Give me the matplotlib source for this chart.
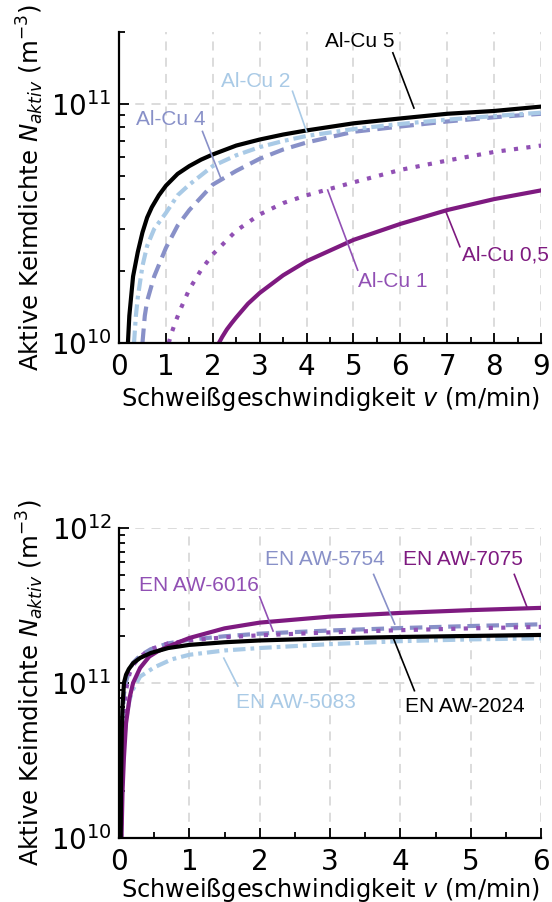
import matplotlib
matplotlib.use("Agg")
import matplotlib.pyplot as plt
from matplotlib.ticker import LogLocator, NullFormatter, MultipleLocator

# ---- data (v in m/min, N in m^-3) ----
# top panel: Al-Cu alloys (N in units of 1e10)
v_cu5 = [0.19, 0.22, 0.25, 0.3, 0.4, 0.5, 0.6, 0.7, 0.85, 1.0, 1.25, 1.5, 1.75, 2, 2.5, 3, 3.5, 4, 5, 6, 7, 8, 9]
n_cu5 = [1.0, 1.3, 1.5, 1.9, 2.4, 2.9, 3.35, 3.7, 4.15, 4.55, 5.1, 5.5, 5.85, 6.15, 6.7, 7.1, 7.45, 7.75, 8.3, 8.7, 9.1, 9.35, 9.75]
v_cu2 = [0.32, 0.36, 0.4, 0.5, 0.6, 0.75, 1.0, 1.25, 1.5, 2, 2.5, 3, 3.5, 4, 5, 6, 7, 8, 9]
n_cu2 = [1.0, 1.3, 1.55, 2.1, 2.55, 3.0, 3.5, 4.15, 4.6, 5.5, 6.1, 6.6, 7.0, 7.35, 7.85, 8.25, 8.6, 8.9, 9.2]
v_cu4 = [0.5, 0.55, 0.6, 0.75, 1.0, 1.25, 1.5, 2, 2.5, 3, 3.5, 4, 5, 6, 7, 8, 9]
n_cu4 = [1.0, 1.3, 1.5, 1.9, 2.5, 3.1, 3.6, 4.6, 5.25, 5.9, 6.45, 6.9, 7.65, 8.05, 8.45, 8.8, 9.1]
v_cu1 = [1.06, 1.12, 1.2, 1.3, 1.5, 1.75, 2, 2.5, 3, 3.5, 4, 5, 6, 7, 8, 9]
n_cu1 = [1.0, 1.1, 1.22, 1.37, 1.68, 2.02, 2.35, 2.95, 3.45, 3.85, 4.15, 4.7, 5.3, 5.8, 6.3, 6.7]
v_cu05 = [2.13, 2.2, 2.3, 2.4, 2.5, 2.75, 3, 3.5, 4, 5, 6, 7, 8, 9]
n_cu05 = [1.0, 1.06, 1.14, 1.21, 1.28, 1.46, 1.62, 1.92, 2.2, 2.7, 3.15, 3.6, 4.0, 4.35]

# bottom panel: EN AW alloys (N in units of 1e11)
v_2024 = [0.024, 0.03, 0.04, 0.05, 0.07, 0.1, 0.14, 0.2, 0.3, 0.45, 0.7, 1.0, 1.5, 2, 3, 4, 5, 6]
n_2024 = [0.1, 0.25, 0.5, 0.7, 1.0, 1.13, 1.23, 1.34, 1.45, 1.56, 1.68, 1.76, 1.83, 1.88, 1.94, 1.98, 2.01, 2.04]
v_7075 = [0.035, 0.05, 0.07, 0.1, 0.15, 0.2, 0.3, 0.43, 0.55, 0.7, 1.0, 1.5, 2, 3, 4, 5, 6]
n_7075 = [0.1, 0.2, 0.33, 0.55, 0.8, 1.0, 1.25, 1.48, 1.6, 1.72, 1.95, 2.25, 2.45, 2.68, 2.83, 2.95, 3.05]
v_5754 = [0.025, 0.035, 0.05, 0.07, 0.1, 0.15, 0.2, 0.3, 0.45, 0.7, 1.0, 1.5, 2, 3, 4, 5, 6]
n_5754 = [0.1, 0.3, 0.6, 0.85, 1.02, 1.22, 1.35, 1.5, 1.65, 1.8, 1.9, 2.0, 2.08, 2.18, 2.26, 2.33, 2.39]
v_6016 = [0.03, 0.04, 0.06, 0.08, 0.1, 0.15, 0.2, 0.3, 0.45, 0.7, 1.0, 1.5, 2, 3, 4, 5, 6]
n_6016 = [0.1, 0.3, 0.55, 0.75, 0.9, 1.15, 1.3, 1.48, 1.65, 1.8, 1.88, 1.97, 2.03, 2.12, 2.19, 2.25, 2.3]
v_5083 = [0.03, 0.05, 0.07, 0.1, 0.15, 0.2, 0.3, 0.5, 0.75, 1.0, 1.5, 2, 3, 4, 5, 6]
n_5083 = [0.1, 0.27, 0.4, 0.58, 0.78, 0.91, 1.1, 1.26, 1.42, 1.52, 1.62, 1.68, 1.78, 1.86, 1.91, 1.94]

C_BLACK = "#000000"
C_DARK = "#7e1a80"
C_PURP = "#9150b4"
C_PERI = "#8890c8"
C_LIGHT = "#a9cae6"

XLABEL = "Schweißgeschwindigkeit $v$ (m/min)"
YLABEL = "Aktive Keimdichte $N_{aktiv}$ (m$^{-3}$)"
LBL_FONT = "Liberation Sans"


def style_axes(ax, xmax, xlabelpad):
    for s in ("top", "right"):
        ax.spines[s].set_visible(False)
    for s in ("left", "bottom"):
        ax.spines[s].set_linewidth(1.6)
    ax.set_yscale("log")
    ax.set_xlim(0, xmax)
    ax.xaxis.set_major_locator(MultipleLocator(1))
    ax.xaxis.set_minor_locator(MultipleLocator(0.5))
    ax.yaxis.set_minor_locator(LogLocator(base=10, subs=range(2, 10)))
    ax.yaxis.set_minor_formatter(NullFormatter())
    ax.tick_params(which="both", direction="in", width=1.3, labelsize=20)
    ax.tick_params(which="major", length=7)
    ax.tick_params(which="minor", length=4)
    ax.tick_params(axis="x", which="major", pad=7)
    ax.tick_params(axis="y", which="major", pad=5)
    ax.grid(True, which="major", color="#d9d9d9", linestyle=(0, (5, 4)), linewidth=1.3)
    ax.set_axisbelow(True)
    ax.set_xlabel(XLABEL, fontsize=17.3, labelpad=xlabelpad)
    ax.set_ylabel(YLABEL, fontsize=17.6, labelpad=4)


def label(ax, text, color, pos, line):
    ax.text(pos[0], pos[1], text, color=color, fontsize=15, family=LBL_FONT,
            ha="center", va="center", clip_on=False)
    ax.plot(line[0], line[1], color=color, lw=1.2, clip_on=False)


fig = plt.figure(figsize=(5.52, 9.02), dpi=100)
ax1 = fig.add_axes([0.2156, 0.6197, 0.7645, 0.3448])
ax2 = fig.add_axes([0.2156, 0.0710, 0.7645, 0.3437])

# ---- top panel ----
e10 = 1e10
ax1.plot(v_cu05, [n * e10 for n in n_cu05], color=C_DARK, lw=3.0)
ax1.plot(v_cu1, [n * e10 for n in n_cu1], color=C_PURP, lw=3.0, linestyle=(0, (1, 2)))
ax1.plot(v_cu4, [n * e10 for n in n_cu4], color=C_PERI, lw=3.0, linestyle=(0, (3.5, 1.8)))
ax1.plot(v_cu2, [n * e10 for n in n_cu2], color=C_LIGHT, lw=3.0, linestyle=(0, (3, 1.2, 0.9, 1.2)))
ax1.plot(v_cu5, [n * e10 for n in n_cu5], color=C_BLACK, lw=3.0)
ax1.set_ylim(1e10, 2e11)
style_axes(ax1, 9, 3)

label(ax1, "Al-Cu 5", C_BLACK, (5.13, 10**11.26), ([5.84, 6.29], [10**11.214, 10**10.983]))
label(ax1, "Al-Cu 2", C_LIGHT, (2.91, 10**11.095), ([3.70, 4.0], [10**11.053, 10**10.885]))
label(ax1, "Al-Cu 4", C_PERI, (1.105, 10**10.934), ([1.78, 2.17], [10**10.885, 10**10.69]))
label(ax1, "Al-Cu 1", C_PURP, (5.84, 10**10.256), ([5.09, 4.45], [10**10.305, 10**10.64]))
label(ax1, "Al-Cu 0,5", C_DARK, (8.25, 10**10.368), ([7.27, 6.97], [10**10.403, 10**10.55]))

# ---- bottom panel ----
e11 = 1e11
ax2.plot(v_5083, [n * e11 for n in n_5083], color=C_LIGHT, lw=3.0, linestyle=(0, (3, 1.2, 0.9, 1.2)))
ax2.plot(v_5754, [n * e11 for n in n_5754], color=C_PERI, lw=3.0, linestyle=(0, (3, 1.6)))
ax2.plot(v_6016, [n * e11 for n in n_6016], color=C_PURP, lw=3.0, linestyle=(0, (1, 2)))
ax2.plot(v_7075, [n * e11 for n in n_7075], color=C_DARK, lw=3.0)
ax2.plot(v_2024, [n * e11 for n in n_2024], color=C_BLACK, lw=3.0)
ax2.set_ylim(1e10, 1e12)
style_axes(ax2, 6, 0)

label(ax2, "EN AW-5754", C_PERI, (2.93, 10**11.794), ([3.62, 3.92], [10**11.70, 10**11.38]))
label(ax2, "EN AW-7075", C_DARK, (4.89, 10**11.794), ([5.62, 5.80], [10**11.70, 10**11.49]))
label(ax2, "EN AW-6016", C_PURP, (1.14, 10**11.626), ([2.0, 2.19], [10**11.556, 10**11.335]))
label(ax2, "EN AW-5083", C_LIGHT, (2.52, 10**10.877), ([1.69, 1.49], [10**10.98, 10**11.16]))
label(ax2, "EN AW-2024", C_BLACK, (4.92, 10**10.846), ([4.2, 3.9], [10**10.95, 10**11.29]))

fig.savefig("out.png", dpi=100)
